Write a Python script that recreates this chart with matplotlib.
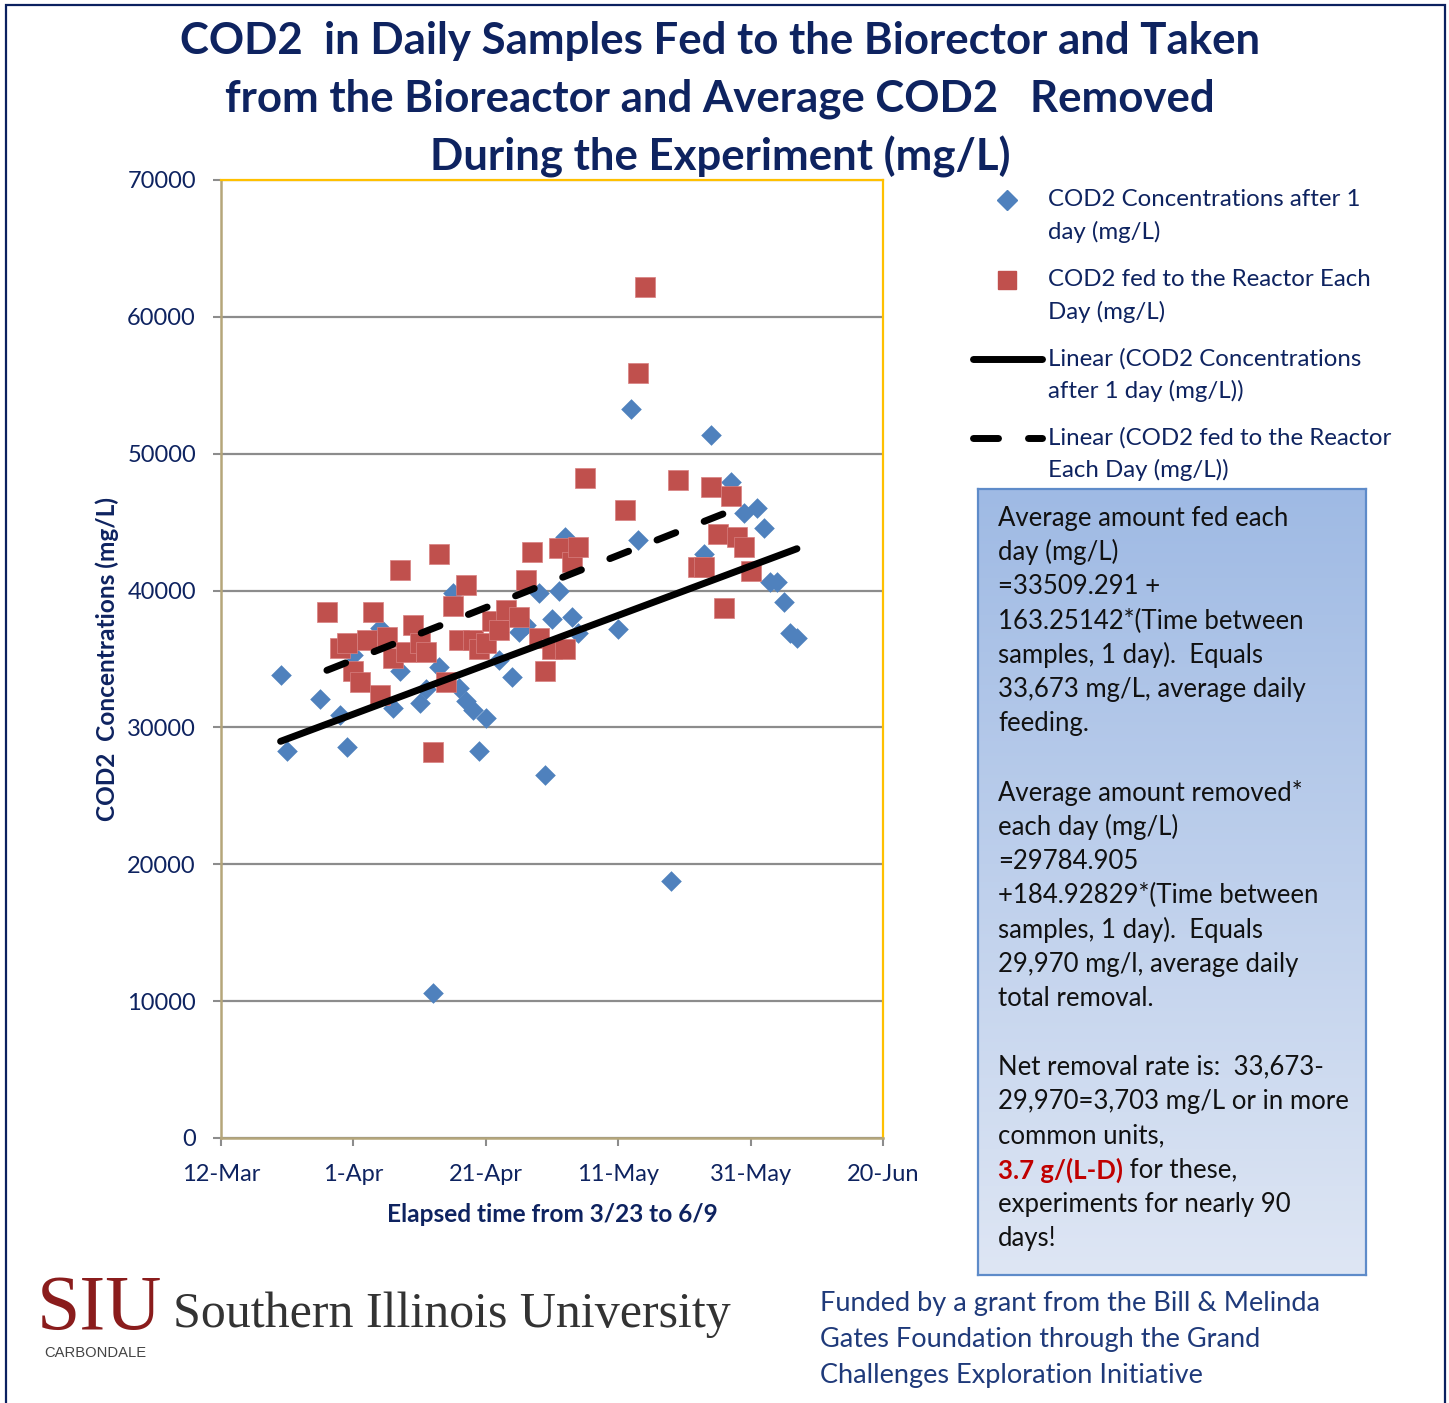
import numpy as np
import matplotlib
matplotlib.use("Agg")
import matplotlib.pyplot as plt
import matplotlib.dates as mdates
from matplotlib.lines import Line2D
from matplotlib.patches import Rectangle

# ---------------- data ----------------
YEAR = "2011"
after_dates = ["03-21", "03-22", "03-27", "03-30", "03-31", "04-01", "04-05", "04-07",
               "04-08", "04-11", "04-12", "04-13", "04-14", "04-16", "04-17", "04-18",
               "04-19", "04-20", "04-21", "04-23", "04-25", "04-26", "04-27", "04-29",
               "04-30", "05-01", "05-02", "05-03", "05-04", "05-05", "05-11", "05-13",
               "05-14", "05-19", "05-24", "05-25", "05-28", "05-30", "06-01", "06-02",
               "06-03", "06-04", "06-05", "06-06", "06-07"]
after_vals = [33800, 28300, 32100, 30900, 28600, 35300, 37300, 31400,
              34100, 31800, 32800, 10600, 34400, 39800, 32900, 31900,
              31300, 28300, 30700, 34900, 33700, 37000, 37500, 39800,
              26500, 37900, 40000, 43900, 38100, 36900, 37200, 53300,
              43700, 18800, 42700, 51400, 47900, 45700, 46000, 44600,
              40600, 40600, 39200, 36900, 36500]

fed_dates = ["03-28", "03-30", "03-31", "04-01", "04-02", "04-03", "04-04", "04-05",
             "04-06", "04-07", "04-08", "04-09", "04-10", "04-11", "04-12", "04-13",
             "04-14", "04-15", "04-16", "04-17", "04-18", "04-19", "04-20", "04-21",
             "04-22", "04-23", "04-24", "04-26", "04-27", "04-28", "04-29", "04-30",
             "05-01", "05-02", "05-03", "05-04", "05-05", "05-06", "05-12", "05-14",
             "05-15", "05-20", "05-23", "05-24", "05-25", "05-26", "05-27", "05-28",
             "05-29", "05-30", "05-31"]
fed_vals = [38400, 35800, 36200, 34100, 33300, 36400, 38400, 32400,
            36600, 35100, 41500, 35500, 37500, 36200, 35500, 28200,
            42700, 33300, 38900, 36400, 40400, 36400, 35700, 36200,
            37800, 37100, 38600, 38100, 40800, 42800, 36500, 34100,
            35700, 43100, 35700, 42100, 43200, 48200, 45900, 55900,
            62200, 48100, 41700, 41700, 47600, 44100, 38700, 46900,
            43900, 43200, 41400]

x_tick_dates = ["03-12", "04-01", "04-21", "05-11", "05-31", "06-20"]
x_tick_labels = ["12-Mar", "1-Apr", "21-Apr", "11-May", "31-May", "20-Jun"]
y_ticks = [0, 10000, 20000, 30000, 40000, 50000, 60000, 70000]

title_lines = ["COD2  in Daily Samples Fed to the Biorector and Taken",
               "from the Bioreactor and Average COD2   Removed",
               "During the Experiment (mg/L)"]
legend_labels = [["COD2 Concentrations after 1", "day (mg/L)"],
                 ["COD2 fed to the Reactor Each", "Day (mg/L)"],
                 ["Linear (COD2 Concentrations", "after 1 day (mg/L))"],
                 ["Linear (COD2 fed to the Reactor", "Each Day (mg/L))"]]
box_lines = ["Average amount fed each", "day (mg/L)", "=33509.291 +",
             "163.25142*(Time between", "samples, 1 day).  Equals",
             "33,673 mg/L, average daily", "feeding.", "",
             "Average amount removed*", "each day (mg/L)", "=29784.905",
             "+184.92829*(Time between", "samples, 1 day).  Equals",
             "29,970 mg/l, average daily", "total removal.", "",
             "Net removal rate is:  33,673-", "29,970=3,703 mg/L or in more",
             "common units,", None, "experiments for nearly 90", "days!"]
red_part = "3.7 g/(L-D)"
red_rest = " for these,"
funded_lines = ["Funded by a grant from the Bill & Melinda",
                "Gates Foundation through the Grand",
                "Challenges Exploration Initiative"]

# ---------------- style ----------------
W, H = 1449, 1403
FONT = "Lato"
NAVY = "#0E2360"
BLUE = "#4F81BD"
RED = "#C0504D"

def fx(px):
    return px / W

def fy(py):
    return 1 - py / H

fig = plt.figure(figsize=(W / 100, H / 100), dpi=100)
fig.patch.set_facecolor("white")

ax = fig.add_axes([fx(221), fy(1138), fx(883) - fx(221), fy(180) - fy(1138)])

ad = mdates.datestr2num([f"{YEAR}-{d}" for d in after_dates])
fd = mdates.datestr2num([f"{YEAR}-{d}" for d in fed_dates])
av = np.array(after_vals, float)
fv = np.array(fed_vals, float)

ax.set_ylim(0, 70000)
ax.set_xlim(mdates.datestr2num(f"{YEAR}-03-12"), mdates.datestr2num(f"{YEAR}-06-20"))

ax.set_yticks(y_ticks)
ax.set_yticklabels([str(v) for v in y_ticks])
ax.set_xticks(mdates.datestr2num([f"{YEAR}-{d}" for d in x_tick_dates]))
ax.set_xticklabels(x_tick_labels)

ax.yaxis.grid(True, color="#8C8C8C", lw=1.6)
ax.set_axisbelow(True)

ax.scatter(ad, av, marker="D", s=(10.5) ** 2, color=BLUE, lw=0, zorder=3)
ax.scatter(fd, fv, marker="s", s=(14.0) ** 2, color=RED, edgecolor="#D88080",
           lw=0.5, zorder=3)

# linear trend lines
pa = np.polyfit(ad, av, 1)
xa = np.array([ad.min(), ad.max()])
ax.plot(xa, np.polyval(pa, xa), color="black", lw=5, solid_capstyle="round", zorder=4)
pf = np.polyfit(fd, fv, 1)
xf = np.array([fd.min(), fd.max()])
ax.plot(xf, np.polyval(pf, xf), color="black", lw=5, dashes=(2.9, 4.4),
        dash_capstyle="round", zorder=4)

for s in ["top", "right"]:
    ax.spines[s].set_color("#FFC000")
    ax.spines[s].set_linewidth(1.6)
for s in ["left", "bottom"]:
    ax.spines[s].set_color("#B5A67A")
    ax.spines[s].set_linewidth(1.8)

ax.tick_params(axis="both", direction="out", length=6, width=1.5, color="#8C8C8C",
               labelcolor=NAVY, labelsize=17)
ax.tick_params(axis="y", pad=12)
ax.tick_params(axis="x", pad=13)
for lab in ax.get_xticklabels() + ax.get_yticklabels():
    lab.set_fontfamily(FONT)

ax.set_xlabel("Elapsed time from 3/23 to 6/9", fontfamily=FONT, fontsize=17.6,
              fontweight="bold", color=NAVY)
ax.xaxis.set_label_coords((552 - 221) / 662, -(1214 - 1138) / 958)
ax.xaxis.label.set_va("center")
ax.set_ylabel("COD2  Concentrations (mg/L)", fontfamily=FONT, fontsize=17.6,
              fontweight="bold", color=NAVY)
ax.yaxis.set_label_coords(-(221 - 107) / 662, (1138 - 659) / 958)
ax.yaxis.label.set_va("center")

# title
for i, t in enumerate(title_lines):
    fig.text(fx(720), fy(41 + 58 * i), t, ha="center", va="center",
             fontfamily=FONT, fontsize=31.5, fontweight="bold", color=NAVY)

# legend (drawn manually)
leg_y = [200, 280, 359, 438]
fig.add_artist(Line2D([fx(1007)], [fy(200)], marker="D", ms=10.5, color=BLUE, lw=0))
fig.add_artist(Line2D([fx(1007)], [fy(280)], marker="s", ms=13, color=RED, lw=0))
fig.add_artist(Line2D([fx(973), fx(1042)], [fy(359), fy(359)], color="black", lw=5,
                      solid_capstyle="round"))
fig.add_artist(Line2D([fx(973), fx(998)], [fy(438), fy(438)], color="black", lw=5,
                      solid_capstyle="round"))
fig.add_artist(Line2D([fx(1028), fx(1042)], [fy(438), fy(438)], color="black", lw=5,
                      solid_capstyle="round"))
for yy, lines in zip(leg_y, legend_labels):
    for j, t in enumerate(lines):
        fig.text(fx(1048), fy(yy + 32 * j), t, ha="left", va="center",
                 fontfamily=FONT, fontsize=17.3, color=NAVY)

# gradient text box
bx0, by0, bx1, by1 = 978, 489, 1366, 1275
bax = fig.add_axes([fx(bx0), fy(by1), fx(bx1) - fx(bx0), fy(by0) - fy(by1)])
grad = np.linspace(0, 1, 256)[:, None]
top = np.array([0x9F, 0xBA, 0xE4]) / 255
bot = np.array([0xDE, 0xE6, 0xF4]) / 255
img = top[None, None, :] * (1 - grad[:, :, None]) + bot[None, None, :] * grad[:, :, None]
bax.imshow(img, aspect="auto", extent=[0, 1, 0, 1])
bax.set_xlim(0, 1)
bax.set_ylim(0, 1)
bax.set_xticks([])
bax.set_yticks([])
for s in bax.spines.values():
    s.set_color("#5E8BC9")
    s.set_linewidth(1.6)

fig.canvas.draw()
renderer = fig.canvas.get_renderer()
BOXFS = 18.5
for i, t in enumerate(box_lines):
    yy = 518 + 34.33 * i
    if t is None:
        rt = fig.text(fx(998), fy(yy), red_part, ha="left", va="center",
                      fontfamily=FONT, fontsize=BOXFS, fontweight="bold", color="#C00000")
        bb = rt.get_window_extent(renderer=renderer)
        fig.text(bb.x1 / W, fy(yy), red_rest, ha="left", va="center",
                 fontfamily=FONT, fontsize=BOXFS, color="#111111")
    elif t:
        fig.text(fx(998), fy(yy), t, ha="left", va="center",
                 fontfamily=FONT, fontsize=BOXFS, color="#111111")

# funded text
for i, t in enumerate(funded_lines):
    fig.text(fx(820), fy(1303 + 36 * i), t, ha="left", va="center",
             fontfamily=FONT, fontsize=19.5, color="#1F3A7A")

# logo text
fig.text(fx(37), fy(1329), "SIU", ha="left", va="baseline",
         fontfamily="Liberation Serif", fontsize=56, color="#8A1C1C")
fig.text(fx(173), fy(1327), "Southern Illinois University", ha="left", va="baseline",
         fontfamily="Liberation Serif", fontsize=36, color="#333333")
fig.text(fx(95), fy(1353), "CARBONDALE", ha="center", va="center",
         fontfamily="Liberation Sans", fontsize=10.6, color="#444444")

# outer frame
fig.add_artist(Rectangle((fx(6), -0.01), fx(1445) - fx(6), fy(5) + 0.01,
                         transform=fig.transFigure, fill=False, ec="#0B2160", lw=1.6))

fig.savefig("out.png", dpi=100, facecolor="white")
